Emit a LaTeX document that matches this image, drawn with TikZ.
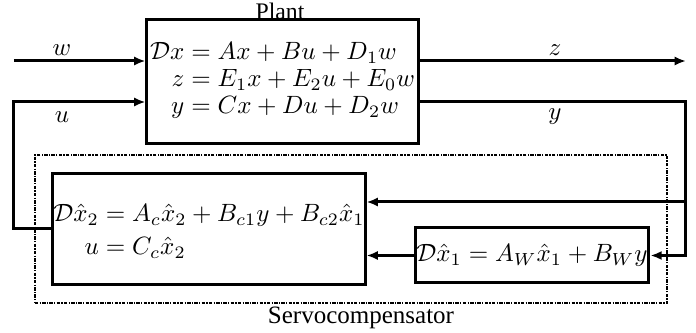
\documentclass[tikz,border=0pt]{standalone}
\usepackage{fontspec}
\newfontfamily\capfont{Liberation Serif}
\usetikzlibrary{arrows.meta}
\tikzset{
  servofig/.style={x=0.4pt, y=-0.4pt, >={Latex[length=4.5pt,width=3.6pt]}},
  blk/.style={draw, line width=1.2pt, inner sep=0.5pt},
  sig/.style={line width=1.2pt, ->},
  wire/.style={line width=1.2pt},
  % gestrichelter Rahmen um den Servokompensator
  servobox/.style={draw, line width=1pt, dash pattern=on 1.4pt off 0.5pt on 0.5pt off 0.5pt,
    minimum width=252.8pt, minimum height=59.2pt, inner sep=0pt},
  sglabel/.style={inner sep=1pt},
  caplabel/.style={font=\capfont\fontsize{10}{11}\selectfont, inner sep=1pt},
}
\newcommand{\eqlines}[1]{$\renewcommand{\arraystretch}{0.9}\begin{array}{@{}r@{}l@{}}#1\end{array}$}

\begin{document}
\begin{tikzpicture}[servofig]
  \useasboundingbox (0,0) rectangle (696,333);
  \node[servobox] (servo) at (351,229) {};
  \node[blk, minimum width=108.4pt, minimum height=49.2pt] (plant) at (282.5,81.5)
    {\eqlines{\mathcal{D}x &{}= Ax + Bu + D_1w\\ z &{}= E_1x + E_2u + E_0w\\ y &{}= Cx + Du + D_2w}};
  \node[blk, minimum width=124.8pt, minimum height=44pt] (ctrl) at (209,229) {};
  \node (ctrltext) at (209,232.5)
    {\eqlines{\mathcal{D}\hat{x}_2 &{}= A_c\hat{x}_2 + B_{c1}y + B_{c2}\hat{x}_1\\[2.5pt] u &{}= C_c\hat{x}_2}};
  \node[blk, minimum width=92.8pt, minimum height=22pt] (wmodel) at (532,255.5)
    {$\mathcal{D}\hat{x}_1 = A_W\hat{x}_1 + B_Wy$};
  \node[caplabel, font=\capfont\fontsize{9.5}{11}\selectfont] (plantcap) at (280,11) {Plant};
  \node[caplabel] (servocap) at (361,318) {Servocompensator};
  \coordinate (win) at (14,61);
  \coordinate (zout) at (686,61);
  \coordinate (ucorner) at (14,102);
  \coordinate (yout) at (686,102);
  \coordinate (ybranch) at (686,202);
  \draw[sig] (win) -- (win -| plant.west);
  \draw[sig] (plant.east |- zout) -- (zout);
  \draw[sig] (ctrl.west) -| (ucorner) -- (ucorner -| plant.west);
  \draw[sig] (plant.east |- yout) -- (yout) |- (wmodel.east);
  \draw[sig] (ybranch) -- (ybranch -| ctrl.east);
  \draw[sig] (wmodel.west) -- (wmodel.west -| ctrl.east);
  \node[sglabel] (wlbl) at (62,50) {$w$};
  \node[sglabel] (ulbl) at (62,117) {$u$};
  \node[sglabel] (zlbl) at (555,50) {$z$};
  \node[sglabel] (ylbl) at (555,117) {$y$};
\end{tikzpicture}
\end{document}
